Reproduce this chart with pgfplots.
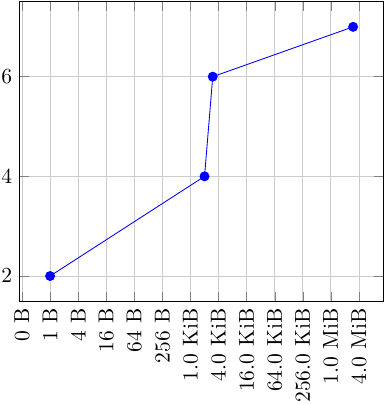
\documentclass[border=0pt]{standalone}
\usepackage{pgfplots}
\pgfplotsset{compat=1.18}
\begin{document}
\begin{tikzpicture}
\begin{axis}[
  scale only axis,
  width=169pt, height=139pt,
  xmode=log, log basis x=2,
  xmin=0.2238, xmax=1.40e7,
  ymin=1.5, ymax=7.5,
  xtick={0.25,1,4,16,64,256,1024,4096,16384,65536,262144,1048576,4194304},
  xticklabels={0 B,1 B,4 B,16 B,64 B,256 B,1.0 KiB,4.0 KiB,16.0 KiB,64.0 KiB,256.0 KiB,1.0 MiB,4.0 MiB},
  x tick label style={rotate=90, anchor=east},
  ytick={2,4,6},
  grid=major,
  major grid style={black!20, line width=0.4pt},
  minor tick num=0,
]
\addplot[blue, mark=*, mark size=2.1pt] coordinates {
  (1,2) (2048,4) (3072,6) (3145728,7)
};
\end{axis}
\pgfresetboundingbox
\path[use as bounding box] ([xshift=-9.2pt,yshift=-47.9pt]current axis.south west) rectangle ([xshift=1.07pt,yshift=0.9pt]current axis.north east);
\end{tikzpicture}
\end{document}
